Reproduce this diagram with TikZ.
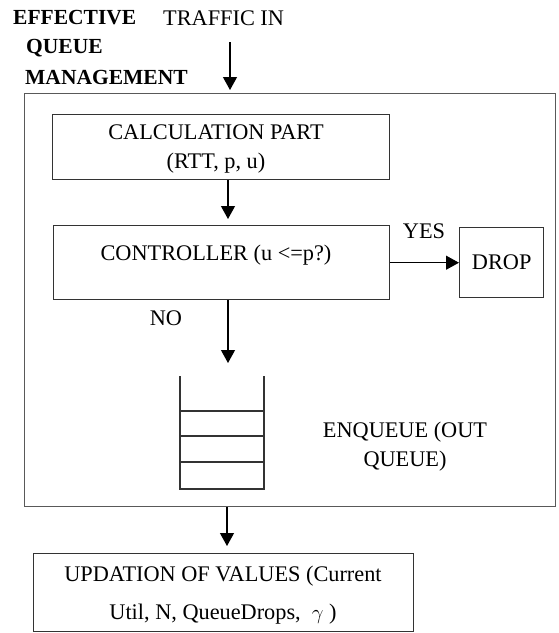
\documentclass[tikz,border=0pt]{standalone}
\usepackage{fontspec}
\setmainfont{Liberation Serif}
\usetikzlibrary{arrows.meta}
\begin{document}
\begin{tikzpicture}[x=1pt,y=-1pt,
  every node/.style={font=\fontsize{22.3}{29}\selectfont},
  boxstyle/.style={draw=black!80,line width=1.4pt,rectangle,inner sep=0pt,anchor=north west,align=center},
  lbl/.style={inner sep=0pt,align=center},
  arr/.style={line width=1.2pt,-{Triangle[width=14pt,length=13pt]}}]
\useasboundingbox (0,0) rectangle (558,633);
% outer box
\node[draw=black!65,line width=1.2pt,rectangle,inner sep=0pt,anchor=north west,minimum width=531pt,minimum height=413pt] (outer) at (24,93) {};
% labels top
\node[lbl,anchor=west,font=\fontsize{21.5}{29}\selectfont\bfseries] (eff) at (13,18) {EFFECTIVE};
\node[lbl,anchor=west,font=\fontsize{21.5}{29}\selectfont\bfseries] (que) at (26,48) {QUEUE};
\node[lbl,anchor=west,font=\fontsize{21.5}{29}\selectfont\bfseries] (man) at (25,77) {MANAGEMENT};
\node[lbl,anchor=west] (traffic) at (163,18) {TRAFFIC IN};
\coordinate (tstart) at (230,42);
% calculation box
\node[boxstyle,minimum width=337pt,minimum height=65pt] (calc) at (52,114) {};
\node[lbl] (calctext) at (216,149) {CALCULATION PART\\(RTT, p, u)};
% controller box
\node[boxstyle,minimum width=336pt,minimum height=74pt] (ctrl) at (53,225) {};
\node[lbl] (ctrltext) at (216,255) {CONTROLLER (u <=p?)};
% drop box
\node[boxstyle,minimum width=84pt,minimum height=70pt] (drop) at (459,227) {};
\node[lbl] (droptext) at (drop.center) {DROP};
\node[lbl] (yes) at (424,231) {YES};
\node[lbl] (no) at (166,318) {NO};
% queue
\coordinate (qtop) at (228,376);
\draw[black!80,line width=1.4pt] (180,376) -- (180,489) -- (264,489) -- (264,376);
\draw[black!80,line width=1.4pt] (180,411) -- (264,411) (180,436) -- (264,436) (180,462) -- (264,462);
\node[lbl] (enq) at (405,447) {ENQUEUE (OUT\\QUEUE)};
% bottom box
\node[boxstyle,minimum width=380pt,minimum height=78pt] (upd) at (33,553) {};
\node[lbl,font=\fontsize{22.3}{38}\selectfont] (updtext) at (223,595) {UPDATION OF VALUES (Current\\Util, N, QueueDrops, \ $\gamma$ )};
% arrows
\draw[arr] (tstart) -- (230,90);
\draw[arr,shorten >=6pt] (calc.south -| 228,0) -- (ctrl.north -| 228,0);
\draw[arr] (ctrl.east) -- (drop.west);
\draw[arr,shorten >=13pt] (ctrl.south -| 228,0) -- (qtop);
\draw[arr,shorten >=7pt] (outer.south -| 227,0) -- (upd.north -| 227,0);
\end{tikzpicture}
\end{document}
